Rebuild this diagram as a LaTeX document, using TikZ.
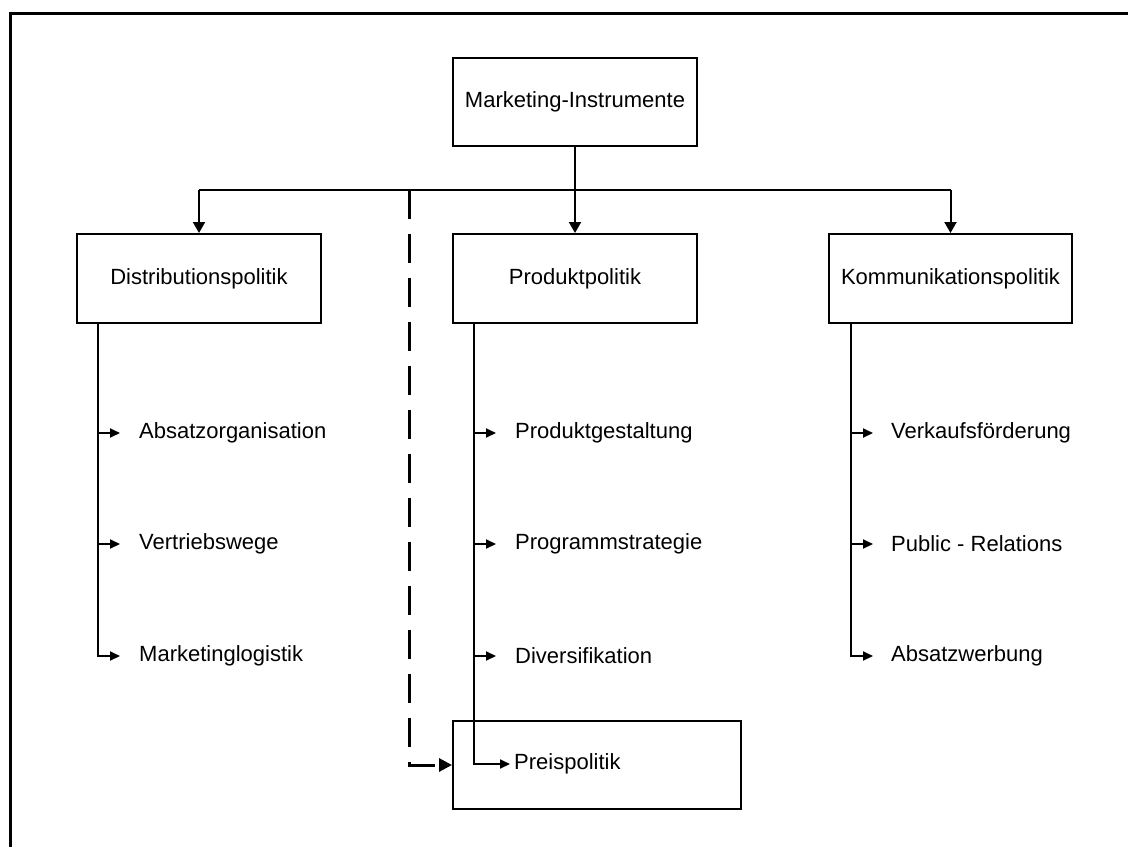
\documentclass[tikz,border=0pt]{standalone}
\usepackage{fontspec}
\setmainfont{Liberation Sans}
\usetikzlibrary{arrows.meta}

\tikzset{
    box/.style={draw, line width=2pt, minimum width=244pt, minimum height=88pt, inner sep=0pt},
    subitem/.style={anchor=west, inner xsep=19pt, inner ysep=0pt},
    mainarr/.style={line width=2pt, -{Triangle[length=11pt,width=12pt]}},
    subarr/.style={line width=2pt, -{Triangle[length=10pt,width=9pt]}},
    dashline/.style={line width=3pt, dash pattern=on 29pt off 15pt, -{Triangle[length=13pt,width=13pt]}}
}

\begin{document}
\begin{tikzpicture}[x=1pt, y=-1pt, font=\fontsize{22}{26}\selectfont]
    \useasboundingbox (0,0) rectangle (1128,847);

    % Frame
    \draw[line width=3pt] (1128,13.5) -- (10.5,13.5) -- (10.5,847);

    % Boxes
    \node[box] (mi) at (575,102) {Marketing-Instrumente};
    \node[box, minimum height=89pt] (dist) at (199,278.5) {Distributionspolitik};
    \node[box, minimum height=89pt] (prod) at (575,278.5) {Produktpolitik};
    \node[box, minimum height=89pt, minimum width=243pt] (komm) at (950.5,278.5) {Kommunikationspolitik};
    \node[box, minimum width=288pt] (preisbox) at (597,765) {};

    % Top level connectors
    \coordinate (bus) at (575,190);
    \draw[line width=2pt] (bus -| dist) -- (bus -| komm);
    \draw[mainarr] (mi.south) -- (prod.north);
    \draw[mainarr] (bus -| dist) -- (dist.north);
    \draw[mainarr] (bus -| komm) -- (komm.north);

    % Dashed link to Preispolitik
    \coordinate (dtop) at (409,190);
    \draw[dashline] (dtop) |- (preisbox.west);

    % Trunks
    \coordinate (dtrunk) at ([xshift=22pt]dist.south west);
    \coordinate (ptrunk) at ([xshift=22pt]prod.south west);
    \coordinate (ktrunk) at ([xshift=23pt]komm.south west);

    % Distributionspolitik
    \node[subitem] (d1) at (120,433) {Absatzorganisation};
    \node[subitem] (d2) at (120,544) {Vertriebswege};
    \node[subitem] (d3) at (120,656) {Marketinglogistik};

    % Produktpolitik
    \node[subitem] (p1) at (496,433) {Produktgestaltung};
    \node[subitem] (p2) at (496,544) {Programmstrategie};
    \node[subitem] (p3) at (496,656) {Diversifikation};
    \node[subitem, inner xsep=4pt] (p4) at (510,764) {Preispolitik};

    % Kommunikationspolitik
    \node[subitem, inner xsep=18pt] (k1) at (873,433) {Verkaufsförderung};
    \node[subitem, inner xsep=18pt] (k2) at (873,544) {Public - Relations};
    \node[subitem, inner xsep=18pt] (k3) at (873,656) {Absatzwerbung};

    \foreach \i in {d1,d2,d3}
        \draw[subarr] (dtrunk) |- (\i.west);
    \foreach \i in {p1,p2,p3,p4}
        \draw[subarr] (ptrunk) |- (\i.west);
    \foreach \i in {k1,k2,k3}
        \draw[subarr] (ktrunk) |- (\i.west);
\end{tikzpicture}
\end{document}
